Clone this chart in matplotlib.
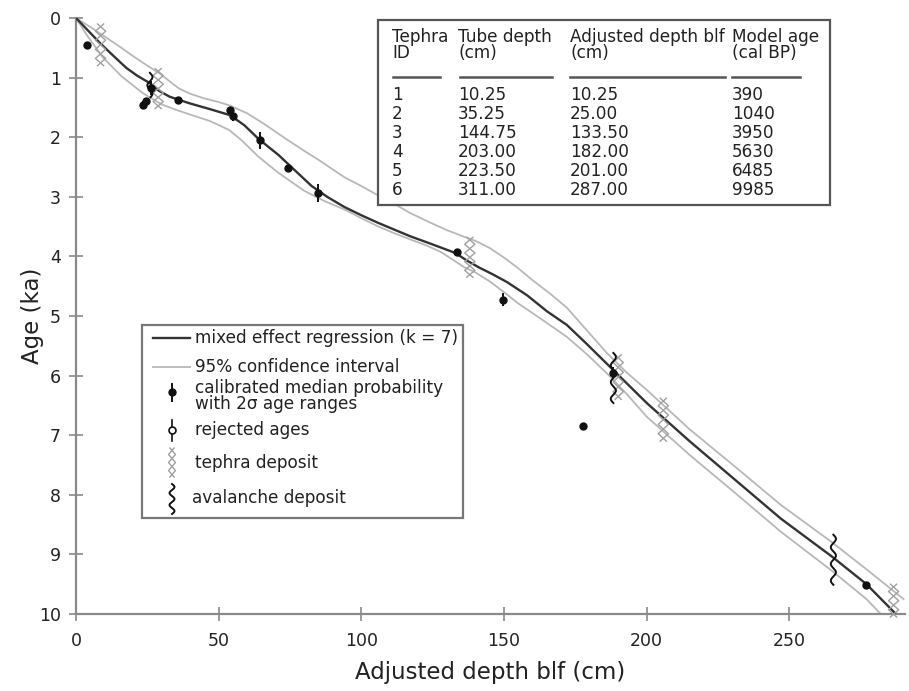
import numpy as np
import matplotlib.pyplot as plt
from matplotlib.patches import Rectangle

plt.rcParams['font.family'] = ['DejaVu Sans']

W, H = 909, 691

# mixed effect regression (depth cm, age ka)
fit_depth = [0, 4, 8.4, 13, 17.7, 21.5, 25.8, 29, 32.8, 36.5, 39.7, 47, 54, 59, 64, 71, 75,
             82.6, 88, 94, 100, 106, 112, 117, 125, 132.8, 137, 141, 146, 151, 158, 165,
             172, 179, 186, 193, 200, 215, 231, 247, 265, 277, 287]
fit_age = [0, 0.2, 0.42, 0.63, 0.84, 0.97, 1.09, 1.22, 1.32, 1.38, 1.43, 1.53, 1.63, 1.8, 2.03,
           2.3, 2.48, 2.82, 3.0, 3.17, 3.31, 3.44, 3.56, 3.66, 3.8, 3.94, 4.07, 4.18, 4.3,
           4.43, 4.65, 4.92, 5.15, 5.47, 5.8, 6.13, 6.46, 7.1, 7.75, 8.4, 9.04, 9.5, 9.985]

# 95% confidence interval
ci_up_depth = [0, 5, 9.4, 15, 20, 25, 29.3, 33, 36, 40, 45, 50, 54, 60, 66, 73, 80, 85, 94,
               100, 106, 112, 117, 124, 130, 136, 140, 145, 150, 155, 160, 166, 172, 179,
               186, 193, 200, 215, 231, 247, 265, 277, 290]
ci_up_age = [0, 0.15, 0.29, 0.47, 0.64, 0.8, 0.93, 1.07, 1.18, 1.27, 1.35, 1.41, 1.47, 1.6,
             1.78, 2.01, 2.23, 2.38, 2.67, 2.82, 2.98, 3.13, 3.27, 3.43, 3.56, 3.67, 3.74,
             3.86, 4.02, 4.2, 4.4, 4.62, 4.86, 5.24, 5.62, 5.95, 6.24, 6.9, 7.53, 8.17, 8.8,
             9.25, 9.75]
ci_lo_depth = [0, 4, 9.4, 16, 23.4, 30, 35, 40, 47, 53.7, 58, 64, 71, 80, 87, 94.4, 100, 106,
               112, 117.4, 123, 128, 136, 140, 145, 150, 154.7, 163, 172, 179, 186, 193, 200,
               215, 231, 247, 265, 277, 282]
ci_lo_age = [0, 0.3, 0.66, 0.98, 1.26, 1.45, 1.54, 1.62, 1.73, 1.88, 2.05, 2.33, 2.6, 2.9,
             3.07, 3.22, 3.36, 3.5, 3.62, 3.72, 3.82, 3.93, 4.18, 4.27, 4.42, 4.6, 4.78, 5.05,
             5.35, 5.64, 5.96, 6.31, 6.69, 7.33, 7.97, 8.62, 9.28, 9.75, 10.0]

# calibrated median probability with 2 sigma ranges
cal_depth = [3.7, 23.5, 24.5, 26.2, 35.8, 54.0, 55.0, 64.5, 74.3, 84.9, 133.6, 149.7,
             177.8, 188.3, 277.0]
cal_age = [0.45, 1.46, 1.40, 1.17, 1.38, 1.55, 1.65, 2.05, 2.52, 2.94, 3.93, 4.73, 6.84,
           5.95, 9.52]
cal_err = [0.05, 0.07, 0.05, 0.12, 0.03, 0.06, 0.08, 0.14, 0.06, 0.15, 0.05, 0.11, 0.05,
           0.1, 0.05]

# tephra deposits
tephra_depth = [8.6, 28.8, 138.0, 190.0, 205.8, 286.5]
tephra_top = [0.1, 0.85, 3.68, 5.65, 6.38, 9.5]
tephra_bot = [0.8, 1.52, 4.35, 6.4, 7.1, 10.05]

# avalanche deposits
aval_depth = [25.9, 188.3, 265.4]
aval_top = [0.92, 5.62, 8.67]
aval_bot = [1.33, 6.46, 9.51]

# inset table
tephra_id = ['1', '2', '3', '4', '5', '6']
tube_depth = ['10.25', '35.25', '144.75', '203.00', '223.50', '311.00']
adj_depth = ['10.25', '25.00', '133.50', '182.00', '201.00', '287.00']
model_age = ['390', '1040', '3950', '5630', '6485', '9985']

GREY = '#8a8a8a'
TEPH = '#a0a0a0'


def tephra_glyph(ax, xc, y0, y1, hw, n, **kw):
    # two crossing zig-zags -> chain of small x's
    t = np.linspace(-0.3, n + 0.3, 300)
    y = y0 + (t + 0.3) / (n + 0.6) * (y1 - y0)
    dx = hw * (2 / np.pi) * np.arcsin(np.sin(np.pi * t))
    ax.plot(xc + dx, y, **kw)
    ax.plot(xc - dx, y, **kw)


def avalanche_glyph(ax, xc, y0, y1, hw, n, **kw):
    t = np.linspace(0, 1, 200)
    ax.plot(xc + hw * np.sin(2 * np.pi * n * t), y0 + t * (y1 - y0), **kw)


fig = plt.figure(figsize=(W / 100, H / 100), dpi=100)
ax = fig.add_axes([76 / W, 1 - 614 / H, (905 - 76) / W, (614 - 18) / H])

ax.plot(ci_up_depth, ci_up_age, color='#b8b8b8', lw=1.3, zorder=2)
ax.plot(ci_lo_depth, ci_lo_age, color='#b8b8b8', lw=1.3, zorder=2)
ax.plot(fit_depth, fit_age, color='#333333', lw=1.7, zorder=3)

for d, a0, a1 in zip(tephra_depth, tephra_top, tephra_bot):
    n = max(2, int(round((a1 - a0) / 0.18)))
    tephra_glyph(ax, d, a0, a1, 1.8, n, color=TEPH, lw=1.0, zorder=4, clip_on=False)

for d, a0, a1 in zip(aval_depth, aval_top, aval_bot):
    n = (a1 - a0) / 0.28
    avalanche_glyph(ax, d, a0, a1, 0.9, n, color='#111111', lw=1.4, zorder=5)

ax.errorbar(cal_depth, cal_age, yerr=cal_err, fmt='o', ms=5, color='#111111',
            elinewidth=1.4, capsize=0, zorder=6)

ax.set_xlim(0, 290.5)
ax.set_ylim(10, 0)
ax.set_xticks(range(0, 251, 50))
ax.set_yticks(range(0, 11))
for s in ['top', 'right']:
    ax.spines[s].set_visible(False)
for s in ['left', 'bottom']:
    ax.spines[s].set_color(GREY)
    ax.spines[s].set_linewidth(1.6)
ax.tick_params(direction='inout', length=10, width=1.2, color=GREY, labelsize=12.5,
               labelcolor='#222222')
ax.tick_params(axis='x', pad=8)
ax.tick_params(axis='y', pad=6)
ax.set_xlabel('Adjusted depth blf (cm)', fontsize=16.5, color='#222222', labelpad=8)
ax.set_ylabel('Age (ka)', fontsize=16.5, color='#222222')
ax.yaxis.set_label_coords(-0.039, 0.5)

# overlay in pixel coordinates for legend and table
ov = fig.add_axes([0, 0, 1, 1])
ov.set_xlim(0, W)
ov.set_ylim(H, 0)
ov.axis('off')
ov.patch.set_alpha(0)

fs = 12.2
tc = '#222222'

# legend
ov.add_patch(Rectangle((142, 325), 321, 193, fc='white', ec='#777777', lw=1.6))
ov.plot([153, 190], [338, 338], color='#333333', lw=1.7)
ov.text(195, 338, 'mixed effect regression (k = 7)', fontsize=fs, color=tc, va='center')
ov.plot([153, 190], [367, 367], color='#b8b8b8', lw=1.3)
ov.text(195, 367, '95% confidence interval', fontsize=fs, color=tc, va='center')
ov.plot([172, 172], [384, 401], color='#111111', lw=1.4)
ov.plot([172], [392], 'o', ms=5, color='#111111')
ov.text(195, 396, 'calibrated median probability\nwith 2\u03c3 age ranges', fontsize=fs,
        color=tc, va='center', linespacing=0.88)
ov.plot([172, 172], [420, 441], color='#111111', lw=1.2)
ov.plot([172], [430], 'o', ms=5, mfc='white', mec='#111111', mew=1.2)
ov.text(195, 430, 'rejected ages', fontsize=fs, color=tc, va='center')
tephra_glyph(ov, 172, 448, 477, 3.5, 3, color=TEPH, lw=1.0)
ov.text(195, 463, 'tephra deposit', fontsize=fs, color=tc, va='center')
avalanche_glyph(ov, 172, 484, 514, 2.5, 2.5, color='#111111', lw=1.4)
ov.text(192, 498, 'avalanche deposit', fontsize=fs, color=tc, va='center')

# table
ov.add_patch(Rectangle((378, 20), 452, 185, fc='white', ec='#555555', lw=1.6))
cols_x = [392, 458, 570, 732]
head = ['Tephra\nID', 'Tube depth\n(cm)', 'Adjusted depth blf\n(cm)', 'Model age\n(cal BP)']
rules = [(393, 440), (460, 552), (570, 725), (732, 800)]
for x, h, (r0, r1) in zip(cols_x, head, rules):
    ov.text(x, 45, h, fontsize=fs, color=tc, va='center', linespacing=0.88)
    ov.plot([r0, r1], [77, 77], color='#555555', lw=1.8)
for i, row in enumerate(zip(tephra_id, tube_depth, adj_depth, model_age)):
    for x, v in zip(cols_x, row):
        ov.text(x, 95 + 19 * i, v, fontsize=fs, color=tc, va='center')

fig.savefig('out.png', dpi=100)
